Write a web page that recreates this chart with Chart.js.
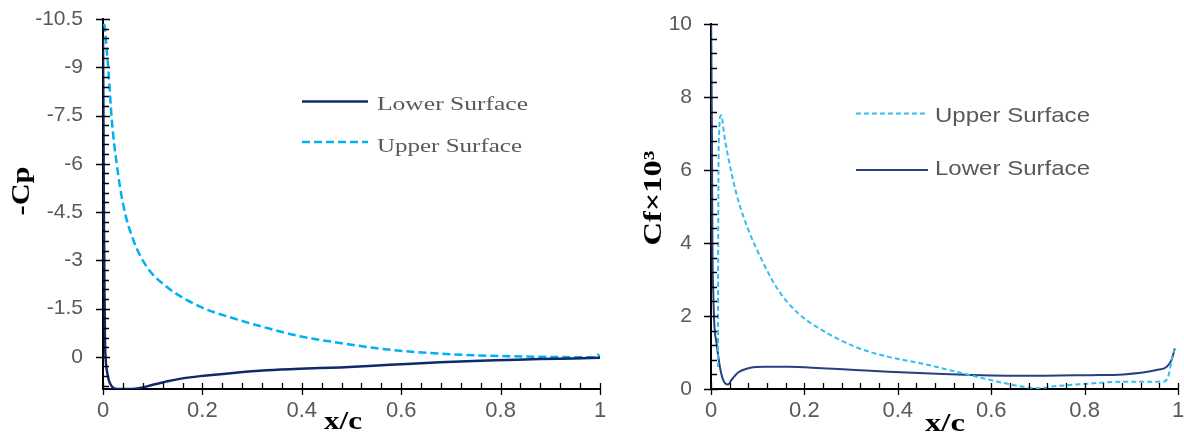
<!DOCTYPE html>
<html>
<head>
<meta charset="utf-8">
<script src="https://cdn.jsdelivr.net/npm/chart.js@4.4.1/dist/chart.umd.min.js"></script>
<style>
  html, body { margin: 0; padding: 0; background: #fff; }
  #wrap { position: relative; width: 1184px; height: 434px; overflow: hidden; }
  #cpChart { position: absolute; left: 0; top: 0; }
  #cfChart { position: absolute; left: 620px; top: 0; }
</style>
</head>
<body>
<div id="wrap">
  <canvas id="cpChart" width="620" height="434"></canvas>
  <canvas id="cfChart" width="564" height="434"></canvas>
</div>
<script>
// pressure coefficient (left chart)
const cpLowerX = [0, 0.001, 0.002, 0.003, 0.004, 0.0055, 0.0075, 0.011, 0.014, 0.021, 0.03, 0.045, 0.065, 0.08, 0.1, 0.13, 0.16, 0.195, 0.262, 0.329, 0.396, 0.477, 0.544, 0.611, 0.678, 0.745, 0.812, 0.879, 0.946, 1.0];
const cpLowerY = [-9.9, -7.0, -4.0, -2.0, -0.5, 0.1, 0.4, 0.68, 0.82, 0.97, 1.0, 1.0, 0.99, 0.95, 0.87, 0.76, 0.67, 0.6, 0.5, 0.42, 0.37, 0.33, 0.28, 0.22, 0.17, 0.13, 0.1, 0.07, 0.05, 0.03];
const cpUpperX = [0.002, 0.004, 0.007, 0.011, 0.0175, 0.0275, 0.041, 0.061, 0.088, 0.128, 0.195, 0.262, 0.329, 0.396, 0.477, 0.544, 0.611, 0.678, 0.745, 0.812, 0.879, 0.946, 0.99, 0.995, 1.0];
const cpUpperY = [-10.35, -10.2, -9.6, -8.9, -7.4, -6.0, -4.7, -3.63, -2.8, -2.18, -1.56, -1.2, -0.9, -0.64, -0.43, -0.28, -0.17, -0.1, -0.05, -0.02, 0.0, 0.01, 0.01, -0.07, 0.01];

// skin friction x 10^3 (right chart)
const cfUpperX = [0.015, 0.0152, 0.0158, 0.0168, 0.0214, 0.03, 0.044, 0.058, 0.08, 0.109, 0.144, 0.187, 0.237, 0.308, 0.38, 0.451, 0.526, 0.597, 0.669, 0.697, 0.74, 0.812, 0.883, 0.969, 0.979, 0.988, 0.992];
const cfUpperY = [0.6, 2.7, 5.4, 6.8, 7.5, 6.82, 5.91, 5.18, 4.36, 3.53, 2.71, 2.07, 1.62, 1.16, 0.88, 0.7, 0.47, 0.25, 0.06, 0.02, 0.08, 0.15, 0.2, 0.2, 0.34, 0.88, 1.07];
const cfLowerX = [0, 0.002, 0.003, 0.005, 0.007, 0.012, 0.019, 0.026, 0.036, 0.044, 0.058, 0.08, 0.116, 0.166, 0.237, 0.308, 0.38, 0.497, 0.6, 0.669, 0.812, 0.883, 0.954, 0.976, 0.986, 0.993];
const cfLowerY = [10.5, 7.0, 4.0, 2.6, 1.8, 1.25, 0.61, 0.25, 0.12, 0.25, 0.45, 0.57, 0.61, 0.61, 0.57, 0.52, 0.47, 0.41, 0.37, 0.36, 0.38, 0.4, 0.52, 0.61, 0.79, 1.11];

// tick labels
const xTicks = [0, 0.2, 0.4, 0.6, 0.8, 1];
const cpTicks = [-10.5, -9, -7.5, -6, -4.5, -3, -1.5, 0];
const cfTicks = [0, 2, 4, 6, 8, 10];

const zip = (xs, ys) => xs.map((x, i) => ({ x: x, y: ys[i] }));

function stretchText(ctx, text, x, y, width, rot) {
    ctx.save();
    ctx.translate(x, y);
    if (rot) ctx.rotate(rot);
    const w = ctx.measureText(text).width;
    ctx.scale(width / w, 1);
    ctx.fillText(text, 0, 0);
    ctx.restore();
}

// minor/major tick marks, axis titles and the in-plot legend
const axisMarks = {
    id: 'axisMarks',
    afterDraw(chart, args, o) {
        const ctx = chart.ctx;
        const a = chart.chartArea;
        const x = chart.scales.x, y = chart.scales.y;
        ctx.save();
        ctx.strokeStyle = '#000';
        ctx.lineWidth = 1.3;
        ctx.beginPath();
        const nx = Math.round((x.max - x.min) / o.xMinor);
        for (let i = 0; i <= nx; i++) {
            if (i % 5 === 0) continue;
            const px = Math.round(x.getPixelForValue(x.min + i * o.xMinor)) + 0.5;
            ctx.moveTo(px, a.bottom);
            ctx.lineTo(px, a.bottom - 6);
        }
        x.ticks.forEach(t => {
            const px = Math.round(x.getPixelForValue(t.value)) + 0.5;
            ctx.moveTo(px, a.bottom - 6);
            ctx.lineTo(px, a.bottom + 6);
        });
        const ny = Math.floor((y.max - y.min) / o.yMinor + 1e-6);
        for (let i = 0; i <= ny; i++) {
            if (i % 5 === 0) continue;
            const py = Math.round(y.getPixelForValue(y.min + i * o.yMinor)) + 0.5;
            ctx.moveTo(a.left, py);
            ctx.lineTo(a.left + 6, py);
        }
        y.ticks.forEach(t => {
            const py = Math.round(y.getPixelForValue(t.value)) + 0.5;
            ctx.moveTo(a.left - 7, py);
            ctx.lineTo(a.left + 7, py);
        });
        ctx.stroke();

        // axis titles
        ctx.fillStyle = '#000';
        ctx.font = o.titleFont;
        ctx.textAlign = 'center';
        ctx.textBaseline = 'alphabetic';
        stretchText(ctx, o.xTitle.text, o.xTitle.x, o.xTitle.y, o.xTitle.width, 0);
        ctx.textBaseline = 'middle';
        stretchText(ctx, o.yTitle.text, o.yTitle.x, o.yTitle.y, o.yTitle.width, -Math.PI / 2);

        // legend
        ctx.textAlign = 'left';
        ctx.textBaseline = 'alphabetic';
        ctx.font = o.legendFont;
        o.legend.forEach(e => {
            const ds = chart.data.datasets[e.ds];
            ctx.save();
            ctx.strokeStyle = ds.borderColor;
            ctx.lineWidth = ds.borderWidth;
            ctx.setLineDash(ds.borderDash || []);
            ctx.beginPath();
            ctx.moveTo(e.x1, e.y);
            ctx.lineTo(e.x2, e.y);
            ctx.stroke();
            ctx.restore();
            ctx.fillStyle = '#595959';
            stretchText(ctx, ds.label, e.tx, e.ty, e.tw, 0);
        });
        ctx.restore();
    }
};

function axisOpts(ticks, pad, size, fitFn) {
    return {
        type: 'linear',
        afterBuildTicks: s => { s.ticks = ticks.map(v => ({ value: v })); },
        afterFit: fitFn,
        grid: { display: false, drawTicks: false },
        border: { display: true, color: '#000', width: 2 },
        ticks: {
            padding: pad,
            color: '#595959',
            autoSkip: false,
            maxRotation: 0,
            font: { family: 'Liberation Sans', size: size },
            callback: v => String(v)
        }
    };
}

const lineStyle = { showLine: true, pointRadius: 0, fill: false, cubicInterpolationMode: 'monotone' };

new Chart(document.getElementById('cpChart'), {
    type: 'scatter',
    data: {
        datasets: [
            Object.assign({ label: 'Lower Surface', data: zip(cpLowerX, cpLowerY), borderColor: '#0f2a6a', borderWidth: 2.5 }, lineStyle),
            Object.assign({ label: 'Upper Surface', data: zip(cpUpperX, cpUpperY), borderColor: '#00b0f0', borderWidth: 2.5, borderDash: [8, 4] }, lineStyle)
        ]
    },
    options: {
        responsive: false,
        animation: false,
        layout: { padding: { left: 0, right: 20, top: 19, bottom: 0 } },
        plugins: {
            legend: { display: false },
            tooltip: { enabled: false },
            axisMarks: {
                xMinor: 0.04,
                yMinor: 0.3,
                titleFont: 'bold 25px "Liberation Serif"',
                legendFont: '19px "Liberation Serif"',
                xTitle: { text: 'x/c', x: 343, y: 429, width: 38 },
                yTitle: { text: '-Cp', x: 23, y: 191, width: 49 },
                legend: [
                    { ds: 0, x1: 302, x2: 368, y: 101.5, tx: 377, ty: 110, tw: 151 },
                    { ds: 1, x1: 302, x2: 368, y: 142, tx: 377, ty: 152, tw: 145 }
                ]
            }
        },
        scales: {
            x: Object.assign(axisOpts(xTicks, 9, 22, s => { s.height = 45; s.paddingLeft = 0; s.paddingRight = 0; }), { min: 0, max: 1 }),
            y: Object.assign(axisOpts(cpTicks, 20, 21, s => { s.width = 103; s.paddingTop = 0; s.paddingBottom = 0; }), { min: -10.5, max: 1, reverse: true })
        }
    },
    plugins: [axisMarks]
});

new Chart(document.getElementById('cfChart'), {
    type: 'scatter',
    data: {
        datasets: [
            Object.assign({ label: 'Upper Surface', data: zip(cfUpperX, cfUpperY), borderColor: '#33bdf0', borderWidth: 2, borderDash: [5, 3] }, lineStyle),
            Object.assign({ label: 'Lower Surface', data: zip(cfLowerX, cfLowerY), borderColor: '#27417f', borderWidth: 2 }, lineStyle)
        ]
    },
    options: {
        responsive: false,
        animation: false,
        layout: { padding: { left: 0, right: 6, top: 24, bottom: 0 } },
        plugins: {
            legend: { display: false },
            tooltip: { enabled: false },
            axisMarks: {
                xMinor: 0.04,
                yMinor: 0.4,
                titleFont: 'bold 25px "Liberation Serif"',
                legendFont: '21px "Liberation Sans"',
                xTitle: { text: 'x/c', x: 325, y: 431, width: 40 },
                yTitle: { text: 'Cf\u00d710\u00b3', x: 35, y: 198, width: 95 },
                legend: [
                    { ds: 0, x1: 236, x2: 308, y: 113.5, tx: 315, ty: 122, tw: 155 },
                    { ds: 1, x1: 236, x2: 308, y: 170, tx: 315, ty: 175, tw: 155 }
                ]
            }
        },
        scales: {
            x: Object.assign(axisOpts(xTicks, 9, 22, s => { s.height = 45; s.paddingLeft = 0; s.paddingRight = 0; }), { min: 0, max: 1 }),
            y: Object.assign(axisOpts(cfTicks, 19, 21, s => { s.width = 91; s.paddingTop = 0; s.paddingBottom = 0; }), { min: 0, max: 10 })
        }
    },
    plugins: [axisMarks]
});
</script>
</body>
</html>
